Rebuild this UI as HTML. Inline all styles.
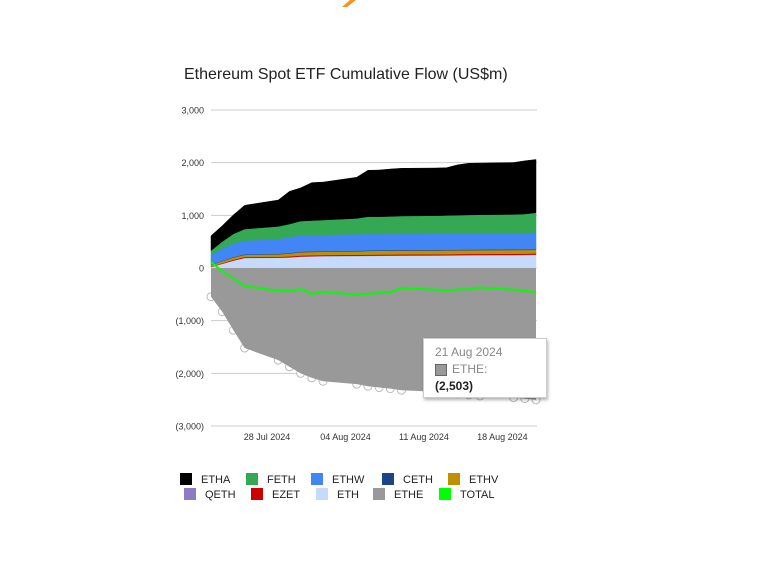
<!DOCTYPE html>
<html><head><meta charset="utf-8"><style>
html,body{margin:0;padding:0;background:#fff;}
body{width:782px;height:566px;position:relative;overflow:hidden;font-family:"Liberation Sans",Arial,sans-serif;}
#tt{position:absolute;left:423px;top:338px;width:124px;height:60px;background:#fff;border:1px solid #ccc;box-shadow:1px 2px 3px rgba(0,0,0,0.3);box-sizing:border-box;font-size:12px;}
</style></head><body>
<svg id="chart" width="782" height="566" style="position:absolute;left:0;top:0">
<path d="M342 7 L350 0 L356 0 L347 7 Z" fill="#f7931a"/>
<text x="184" y="79" font-size="16" fill="#222">Ethereum Spot ETF Cumulative Flow (US$m)</text>
<g id="grid"></g><g id="dots"></g><g id="areas"></g><g id="lines"></g><g id="axes"></g><g id="legend"></g>
</svg>
<div id="tt">
<div style="position:absolute;left:11px;top:6px;color:#888;font-size:12px">21 Aug 2024</div>
<div style="position:absolute;left:11px;top:25px;width:10px;height:10px;background:#999;border:1px solid #666"></div>
<div style="position:absolute;left:28px;top:23px;color:#888">ETHE:</div>
<div style="position:absolute;left:11px;top:40px;color:#222;font-weight:bold">(2,503)</div>
</div>
<script>
const dates=["2024-07-23","2024-07-24","2024-07-25","2024-07-26","2024-07-29","2024-07-30","2024-07-31","2024-08-01","2024-08-02","2024-08-05","2024-08-06","2024-08-07","2024-08-08","2024-08-09","2024-08-12","2024-08-13","2024-08-14","2024-08-15","2024-08-16","2024-08-19","2024-08-20","2024-08-21"];
const ETH=[20,80,140,190,195,200,215,220,225,228,230,232,233,235,237,238,240,242,243,245,247,250];
const QETH=[1,2,3,4,4,5,5,5,5,6,6,6,6,6,6,6,6,6,7,7,7,7];
const EZET=[5,10,15,15,15,16,17,17,17,18,18,18,18,18,18,18,19,19,19,19,19,20];
const ETHV=[30,38,42,41,46,54,63,63,63,64,70,72,73,72,72,73,72,72,71,71,70,68];
const CETH=[5,6,8,10,10,10,11,11,11,11,11,12,12,12,12,12,12,12,12,12,12,12];
const ETHW=[190,235,260,260,280,300,310,310,310,315,310,305,305,305,305,305,305,305,305,305,305,323];
const FETH=[80,130,180,220,240,250,270,275,280,300,330,330,332,340,343,346,349,352,355,358,365,370];
const ETHA=[280,300,360,450,500,620,630,720,720,780,880,885,900,905,905,905,955,980,980,985,1010,1010];
const ETHE=[-545,-830,-1180,-1520,-1750,-1875,-2000,-2085,-2150,-2205,-2245,-2270,-2290,-2320,-2350,-2370,-2390,-2410,-2430,-2460,-2480,-2503];
const TOTAL=[110,-60,-200,-345,-430,-440,-400,-490,-450,-510,-490,-475,-460,-380,-410,-420,-410,-400,-370,-410,-430,-460];
const yTicks=[3000,2000,1000,0,-1000,-2000,-3000];
const yTickLabels=["3,000","2,000","1,000","0","(1,000)","(2,000)","(3,000)"];
const xTicks=["2024-07-28","2024-08-04","2024-08-11","2024-08-18"];
const xTickLabels=["28 Jul 2024","04 Aug 2024","11 Aug 2024","18 Aug 2024"];

const NS="http://www.w3.org/2000/svg";
const t0=Date.parse(dates[0]), t1=Date.parse(dates[dates.length-1]);
const X=d=>211+(Date.parse(d)-t0)/(t1-t0)*(536-211);
const Y=v=>268-v*0.05267;
function mk(tag,attrs,parent){const e=document.createElementNS(NS,tag);for(const k in attrs)e.setAttribute(k,attrs[k]);document.getElementById(parent).appendChild(e);return e;}

yTicks.forEach((v,i)=>{
 const l=mk('line',{x1:211,x2:537,y1:Y(v),y2:Y(v),stroke:'#ccc','stroke-width':1},'grid');
 
 
 const t=mk('text',{x:204,y:Y(v)+3.5,'font-size':9,'text-anchor':'end',fill:'#333'},'axes');
 t.textContent=yTickLabels[i];
 
 
});
xTicks.forEach((d,i)=>{
 const t=mk('text',{x:X(d),y:440,'font-size':9,'text-anchor':'middle',fill:'#333'},'axes');
 t.textContent=xTickLabels[i];
 
 
});

const series=[["ETH",ETH,"#c6dafc"],["QETH",QETH,"#8e7cc3"],["EZET",EZET,"#cc0000"],["ETHV",ETHV,"#bf9000"],["CETH",CETH,"#1c4587"],["ETHW",ETHW,"#4285f4"],["FETH",FETH,"#34a853"],["ETHA",ETHA,"#000000"]];
let base=dates.map(()=>0);
series.forEach(([name,vals,col])=>{
 const top=base.map((b,i)=>b+vals[i]);
 let d='M'+dates.map((dt,i)=>X(dt)+','+Y(top[i])).join(' L');
 d+=' L'+dates.map((dt,i)=>X(dt)+','+Y(base[i])).reverse().join(' L')+' Z';
 const p=mk('path',{d:d,fill:col,stroke:col,'stroke-width':0.5},'areas');
 
 
 base=top;
});
{
 let d='M'+X(dates[0])+','+Y(0)+' L'+dates.map((dt,i)=>X(dt)+','+Y(ETHE[i])).join(' L')+' L'+X(dates[dates.length-1])+','+Y(0)+' Z';
 const p=mk('path',{d:d,fill:'#999'},'areas');
 
 
 dates.forEach((dt,i)=>{
  const c=mk('circle',{cx:X(dt),cy:Y(ETHE[i]),r:4,fill:'#fff',stroke:'#bbb','stroke-width':1},'dots');
  
  
 });
 const tl=mk('polyline',{points:dates.map((dt,i)=>X(dt)+','+Y(TOTAL[i])).join(' '),fill:'none',stroke:'#00ff00','stroke-width':2},'lines');
 
 
}
const leg=[["ETHA","#000000",180,479],["FETH","#34a853",246,479],["ETHW","#4285f4",311,479],["CETH","#1c4587",382,479],["ETHV","#bf9000",448,479],
["QETH","#8e7cc3",184,494],["EZET","#cc0000",251,494],["ETH","#c6dafc",316,494],["ETHE","#999999",373,494],["TOTAL","#00ff00",439,494]];
leg.forEach(([n,c,x,y])=>{
 const r=mk('rect',{x:x,y:y-6,width:12,height:12,fill:c},'legend');
 
 
 const t=mk('text',{x:x+21,y:y+4,'font-size':11,fill:'#222'},'legend');
 t.textContent=n;
 
 
});
</script>
</body></html>
